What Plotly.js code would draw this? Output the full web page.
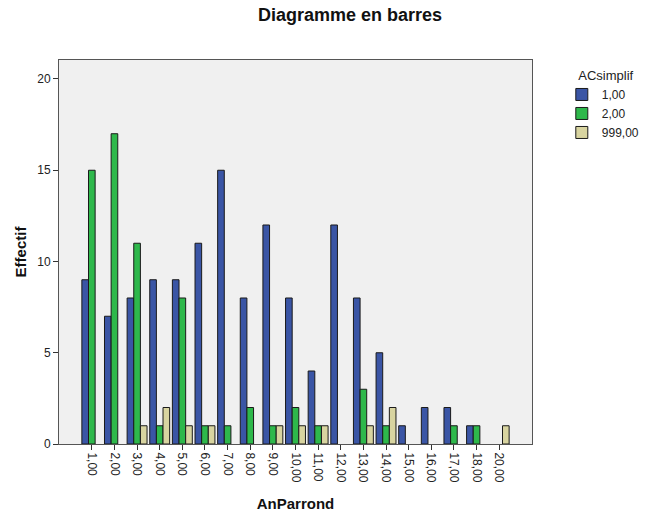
<!DOCTYPE html>
<html>
<head>
<meta charset="utf-8">
<script src="https://cdn.plot.ly/plotly-3.0.1.min.js"></script>
<style>html,body{margin:0;padding:0;background:#fff;}#chart{width:650px;height:515px;}</style>
</head>
<body>
<div id="chart"></div>
<script>
const categories = ["1,00","2,00","3,00","4,00","5,00","6,00","7,00","8,00","9,00","10,00","11,00","12,00","13,00","14,00","15,00","16,00","17,00","18,00","20,00"];
const seriesNames = ["1,00","2,00","999,00"];
const values1 = [9,7,8,9,9,11,15,8,12,8,4,12,8,5,1,2,2,1,0];
const values2 = [15,17,11,1,8,1,1,2,1,2,1,0,3,1,0,0,1,1,0];
const values999 = [0,0,1,2,1,1,0,0,1,1,1,0,1,2,0,0,0,0,1];
const yTicks = [0,5,10,15,20];

const colors = ["#3a55a5","#2eb84b","#d8d4a0"];
const allValues = [values1, values2, values999];

const traces = allValues.map((vals, i) => ({
  type: "bar",
  name: seriesNames[i],
  x: categories,
  y: vals.map(v => v === 0 ? null : v),
  marker: {color: colors[i], line: {color: "#1a1a1a", width: 1}},
  hoverinfo: "x+y+name"
}));

const layout = {
  width: 650, height: 515,
  paper_bgcolor: "#ffffff",
  plot_bgcolor: "#f0f0f0",
  margin: {l: 59, r: 118, t: 60, b: 71, autoexpand: false},
  barmode: "group",
  bargap: 0.12,
  bargroupgap: 0,
  font: {family: "Liberation Sans, Arial, sans-serif", color: "#000"},
  title: {text: "<b>Diagramme en barres</b>", font: {size: 18, color: "#111"}, x: 350/650, xanchor: "center", y: 1 - 15/515, yanchor: "middle"},
  xaxis: {
    type: "category",
    categoryorder: "array", categoryarray: categories,
    range: [-1.45, 19.45],
    tickangle: 90,
    ticks: "outside", ticklen: 5, tickcolor: "#333", tickwidth: 1,
    tickfont: {size: 12, color: "#222"},
    showline: true, linecolor: "#555", linewidth: 1, mirror: true,
    showgrid: false, zeroline: false,
    title: {text: "<b>AnParrond</b>", font: {size: 15, color: "#111"}, standoff: 16}
  },
  yaxis: {
    range: [0, 21.04],
    tickvals: yTicks,
    ticks: "outside", ticklen: 5, tickcolor: "#333", tickwidth: 1,
    tickfont: {size: 12, color: "#222"},
    showline: true, linecolor: "#555", linewidth: 1, mirror: true,
    showgrid: false, zeroline: false,
    title: {text: "<b>Effectif</b>", font: {size: 15, color: "#111"}, standoff: 6}
  },
  legend: {
    x: 1.063, xanchor: "left", y: 0.992, yanchor: "top",
    title: {text: "&nbsp;&nbsp;&nbsp;&nbsp;ACsimplif", font: {size: 13, color: "#222"}},
    font: {size: 12, color: "#222"},
    bgcolor: "rgba(0,0,0,0)",
    itemwidth: 30,
    tracegroupgap: 0
  },
  showlegend: true
};

Plotly.newPlot("chart", traces, layout, {displayModeBar: false, staticPlot: true});
</script>
</body>
</html>
